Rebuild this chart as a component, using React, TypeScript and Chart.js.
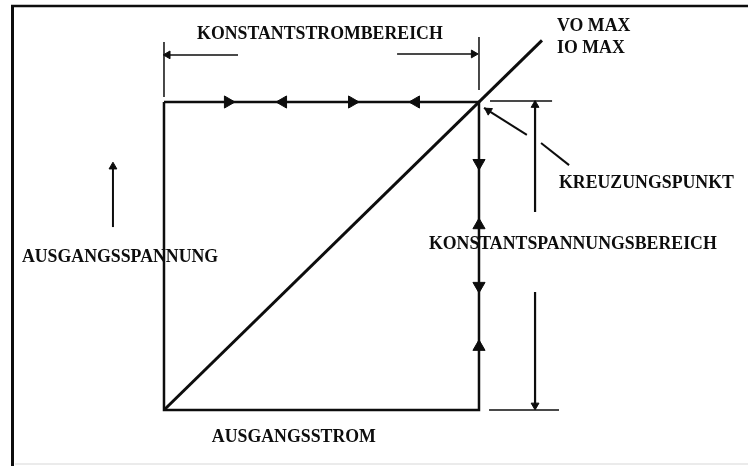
import { useEffect, useRef } from "react";
import { Chart, registerables } from "chart.js";

Chart.register(...registerables);

// Axis ranges (normalised current I/Imax on x, voltage V/Vmax on y)
const X_MIN = -0.5206;
const X_MAX = 1.854;
const Y_MIN = -0.1883;
const Y_MAX = 1.3312;

// Operating characteristic (rectangle) and load line
const characteristicX = [0, 1, 1, 0, 0];
const characteristicY = [1, 1, 0, 0, 1];
const loadLineX = [0, 1.2];
const loadLineY = [0, 1.2];

// Flow arrows on the characteristic
const flowTopX = [0.203, 0.378, 0.597, 0.8];
const flowTopY = [1, 1, 1, 1];
const flowTopRot = [90, 270, 90, 270];
const flowRightX = [1, 1, 1, 1];
const flowRightY = [0.802, 0.6, 0.403, 0.205];
const flowRightRot = [180, 0, 180, 0];

// Dimension lines (Konstantstrombereich)
const dimTopLeftTickX = [0, 0];
const dimTopLeftTickY = [1.195, 1.016];
const dimTopRightTickX = [1, 1];
const dimTopRightTickY = [1.211, 1.039];
const dimTopLeftArrowX = [0.235, 0.015];
const dimTopLeftArrowY = [1.153, 1.153];
const dimTopRightArrowX = [0.74, 0.98];
const dimTopRightArrowY = [1.156, 1.156];

// Dimension lines (Konstantspannungsbereich)
const dimRightUpperX = [1.178, 1.178];
const dimRightUpperY = [0.99, 0.643];
const dimRightLowerX = [1.178, 1.178];
const dimRightLowerY = [0.383, 0.015];
const dimRightTopTickX = [1.035, 1.232];
const dimRightTopTickY = [1.003, 1.003];
const dimRightBottomTickX = [1.032, 1.254];
const dimRightBottomTickY = [0, 0];

// Small arrowheads of dimension lines
const dimHeadX = [0.012, 0.983, 1.178, 1.178];
const dimHeadY = [1.153, 1.156, 0.99, 0.015];
const dimHeadRot = [270, 90, 0, 180];

// Leader to crossing point
const leader1X = [1.016, 1.152];
const leader1Y = [0.981, 0.893];
const leader2X = [1.197, 1.286];
const leader2Y = [0.867, 0.795];
const leaderHeadX = [1.03];
const leaderHeadY = [0.972];
const leaderHeadRot = [303];

// Voltage direction arrow
const voltArrowX = [-0.162, -0.162];
const voltArrowY = [0.594, 0.79];
const voltHeadX = [-0.162];
const voltHeadY = [0.79];
const voltHeadRot = [0];

// Labels
const labelTexts = [
  "KONSTANTSTROMBEREICH",
  "VO MAX",
  "IO MAX",
  "KREUZUNGSPUNKT",
  "AUSGANGSSPANNUNG",
  "KONSTANTSPANNUNGSBEREICH",
  "AUSGANGSSTROM",
];
const labelX = [0.105, 1.248, 1.248, 1.254, -0.451, 0.841, 0.152];
const labelY = [1.218, 1.244, 1.175, 0.737, 0.497, 0.539, -0.088];

const INK = "#0d0d0d";
const FONT = "bold 17.8px 'Liberation Serif', 'Times New Roman', serif";

const pts = (xs: number[], ys: number[]) => xs.map((x, i) => ({ x, y: ys[i] }));

const lineDs = (xs: number[], ys: number[], width: number) => ({
  type: "scatter" as const,
  data: pts(xs, ys),
  showLine: true,
  borderColor: INK,
  borderWidth: width,
  pointRadius: 0,
  fill: false,
  tension: 0,
  borderJoinStyle: "miter" as const,
});

const headDs = (xs: number[], ys: number[], rot: number[], r: number) => ({
  type: "scatter" as const,
  data: pts(xs, ys),
  showLine: false,
  pointStyle: "triangle" as const,
  pointRadius: r,
  rotation: rot,
  backgroundColor: INK,
  borderColor: INK,
  borderWidth: 1,
});

const framePlugin = {
  id: "frame",
  beforeDraw(chart: any) {
    const ctx = chart.ctx;
    ctx.save();
    ctx.fillStyle = "#ffffff";
    ctx.fillRect(0, 0, chart.width, chart.height);
    ctx.strokeStyle = INK;
    ctx.lineWidth = 3;
    ctx.beginPath();
    ctx.moveTo(12.5, 5);
    ctx.lineTo(12.5, 466);
    ctx.stroke();
    ctx.lineWidth = 2.5;
    ctx.beginPath();
    ctx.moveTo(11, 6);
    ctx.lineTo(748, 6);
    ctx.stroke();
    ctx.strokeStyle = "#e4e4e4";
    ctx.lineWidth = 1.5;
    ctx.beginPath();
    ctx.moveTo(15, 464);
    ctx.lineTo(748, 464);
    ctx.stroke();
    ctx.restore();
  },
};

const labelPlugin = {
  id: "labels",
  beforeDatasetsDraw(chart: any) {
    const ctx = chart.ctx;
    const xs = chart.scales.x;
    const ys = chart.scales.y;
    ctx.save();
    ctx.font = FONT;
    ctx.fillStyle = INK;
    ctx.textAlign = "left";
    ctx.textBaseline = "middle";
    labelTexts.forEach((t, i) => {
      ctx.fillText(t, xs.getPixelForValue(labelX[i]), ys.getPixelForValue(labelY[i]));
    });
    ctx.restore();
  },
};

export default function App() {
  const ref = useRef<HTMLCanvasElement | null>(null);

  useEffect(() => {
    if (!ref.current) return;
    const chart = new Chart(ref.current, {
      type: "scatter",
      data: {
        datasets: [
          lineDs(characteristicX, characteristicY, 2.5),
          lineDs(loadLineX, loadLineY, 3),
          lineDs(dimTopLeftTickX, dimTopLeftTickY, 1.5),
          lineDs(dimTopRightTickX, dimTopRightTickY, 1.5),
          lineDs(dimTopLeftArrowX, dimTopLeftArrowY, 1.5),
          lineDs(dimTopRightArrowX, dimTopRightArrowY, 1.5),
          lineDs(dimRightUpperX, dimRightUpperY, 2.2),
          lineDs(dimRightLowerX, dimRightLowerY, 2.2),
          lineDs(dimRightTopTickX, dimRightTopTickY, 1.5),
          lineDs(dimRightBottomTickX, dimRightBottomTickY, 1.5),
          lineDs(leader1X, leader1Y, 2),
          lineDs(leader2X, leader2Y, 2),
          lineDs(voltArrowX, voltArrowY, 2),
          headDs(flowTopX, flowTopY, flowTopRot, 7),
          headDs(flowRightX, flowRightY, flowRightRot, 7),
          headDs(dimHeadX, dimHeadY, dimHeadRot, 4.5),
          headDs(leaderHeadX, leaderHeadY, leaderHeadRot, 4.5),
          headDs(voltHeadX, voltHeadY, voltHeadRot, 4.5),
        ] as any,
      },
      options: {
        animation: false,
        responsive: false,
        maintainAspectRatio: false,
        layout: { padding: 0, autoPadding: false },
        plugins: {
          legend: { display: false },
          tooltip: { enabled: false },
          title: { display: false },
        },
        scales: {
          x: { type: "linear", min: X_MIN, max: X_MAX, display: false },
          y: { type: "linear", min: Y_MIN, max: Y_MAX, display: false },
        },
        events: [],
      },
      plugins: [framePlugin, labelPlugin],
    });
    return () => chart.destroy();
  }, []);

  return (
    <div style={{ position: "fixed", left: 0, top: 0, width: 748, height: 468, background: "#fff" }}>
      <canvas ref={ref} width={748} height={468} style={{ display: "block", width: 748, height: 468 }} />
    </div>
  );
}
